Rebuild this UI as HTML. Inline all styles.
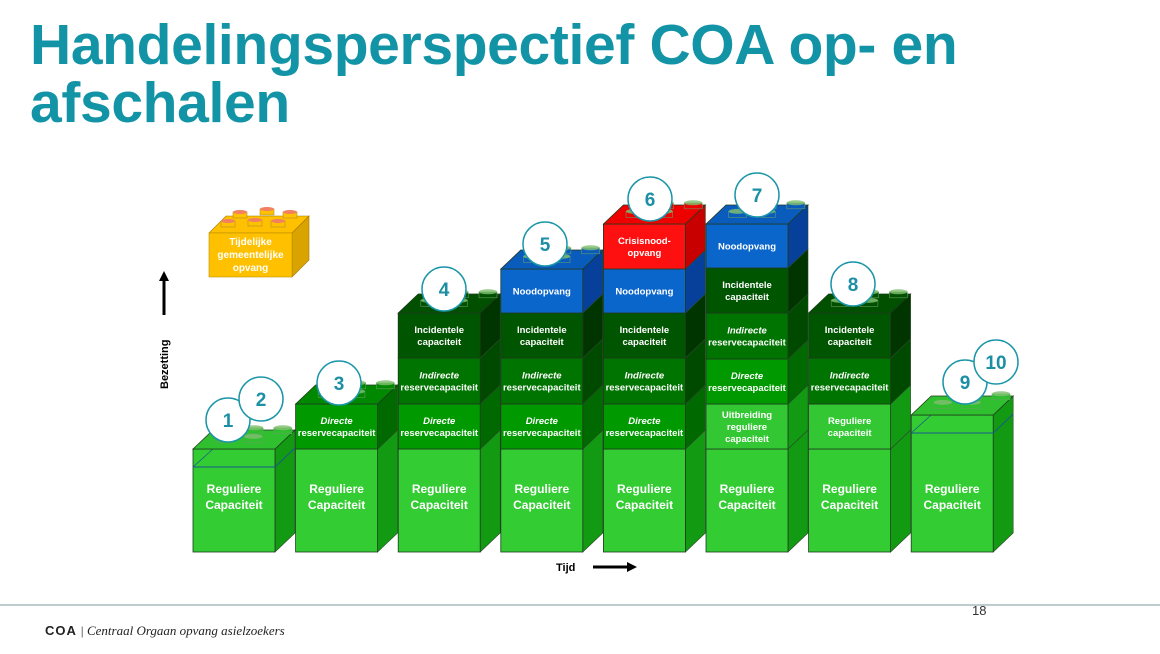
<!DOCTYPE html>
<html><head><meta charset="utf-8">
<style>
html,body{margin:0;padding:0;background:#fff;}
body{width:1160px;height:654px;overflow:hidden;position:relative;font-family:"Liberation Sans",sans-serif;}
.title{position:absolute;left:30px;top:16px;font-size:57px;line-height:58px;font-weight:bold;color:#1294a6;letter-spacing:-0.35px;margin:0;}
svg{position:absolute;left:0;top:0;}
</style></head>
<body>
<h1 class="title">Handelingsperspectief COA op- en<br>afschalen</h1>
<svg id="chart" width="1160" height="654"></svg>
<script>
// Column stacks (bottom to top): layer types
const stackCol1 = ["base1"];
const stackCol2 = ["reg","dir"];
const stackCol3 = ["reg","dir","ind","inc"];
const stackCol4 = ["reg","dir","ind","inc","nood"];
const stackCol5 = ["reg","dir","ind","inc","nood","crisis"];
const stackCol6 = ["reg","uitb","dir","ind","inc","nood"];
const stackCol7 = ["reg","regcap","ind","inc"];
const stackCol8 = ["base8"];
const stacks = [stackCol1,stackCol2,stackCol3,stackCol4,stackCol5,stackCol6,stackCol7,stackCol8];
const stepLabels = [["1","2"],["3"],["4"],["5"],["6"],["7"],["8"],["9","10"]];

const types = {
  base1:{h:103,f:"#33cc33",s:"#139a13",t:"#2fbf2f",lab:["Reguliere","Capaciteit"],big:true,outline:true},
  base8:{h:137,f:"#33cc33",s:"#139a13",t:"#2fbf2f",lab:["Reguliere","Capaciteit"],big:true,outline:true},
  reg:{h:103,f:"#33cc33",s:"#139a13",t:"#2fbf2f",lab:["Reguliere","Capaciteit"],big:true},
  dir:{h:45,f:"#009a00",s:"#006a00",t:"#008800",lab:["Directe","reservecapaciteit"],it:true},
  ind:{h:46,f:"#007400",s:"#004a00",t:"#006a00",lab:["Indirecte","reservecapaciteit"],it:true},
  inc:{h:45,f:"#005500",s:"#003500",t:"#005000",lab:["Incidentele","capaciteit"]},
  nood:{h:44,f:"#0b66cc",s:"#06409a",t:"#0a5cbc",lab:["Noodopvang"]},
  crisis:{h:45,f:"#ff1010",s:"#c80000",t:"#ee0000",lab:["Crisisnood-","opvang"]},
  uitb:{h:45,f:"#33c833",s:"#139a13",t:"#2fbf2f",lab:["Uitbreiding","reguliere","capaciteit"]},
  regcap:{h:45,f:"#33c833",s:"#139a13",t:"#2fbf2f",lab:["Reguliere","capaciteit"]}
};

const svg=document.getElementById('chart');
const NS="http://www.w3.org/2000/svg";
function mk(tag,attrs,parent){const e=document.createElementNS(NS,tag);for(const k in attrs)e.setAttribute(k,attrs[k]);(parent||svg).appendChild(e);return e;}
const colX = i => 193 + i*102.6;
const W=82, DX=20, DY=19, BOTTOM=552;

stacks.forEach((stack,ci)=>{
  const g=mk('g',{});
  
  
  const x=colX(ci);
  let y=BOTTOM;
  let topT=null;
  stack.forEach((tk,li)=>{
    const t=types[tk];
    const top=y-t.h;
    const b=mk('g',{},g);
    
    
    mk('polygon',{points:`${x+W},${top} ${x+W+DX},${top-DY} ${x+W+DX},${y-DY} ${x+W},${y}`,fill:t.s,stroke:"#2a4a2a","stroke-width":0.6},b);
    mk('rect',{x:x,y:top,width:W,height:t.h,fill:t.f,stroke:"#1e3a1e","stroke-width":0.8},b);
    const n=t.lab.length, fs=t.big?12:9.5, lh=t.big?16:12;
    const center=t.big?y-55:top+t.h/2;
    const cy=center - (n-1)*lh/2 + fs*0.35;
    t.lab.forEach((s,k)=>{
      const tx=mk('text',{x:x+W/2,y:cy+k*lh,"text-anchor":"middle",fill:"#fff","font-size":fs,"font-weight":"bold","font-style":(t.it&&k==0)?"italic":"normal","font-family":"Liberation Sans, sans-serif"},b);
      tx.textContent=s;
    });
    if(t.outline){
      mk('line',{x1:x,y1:top+18,x2:x+W,y2:top+18,stroke:"#1a5a8a","stroke-width":1},b);
      mk('line',{x1:x+W,y1:top+18,x2:x+W+DX,y2:top+18-DY,stroke:"#1a5a8a","stroke-width":1},b);
      mk('line',{x1:x,y1:top+18,x2:x+DX,y2:top,stroke:"#1a5a8a","stroke-width":0.8},b);
    }
    y=top; topT=t;
  });
  mk('polygon',{points:`${x},${y} ${x+DX},${y-DY} ${x+W+DX},${y-DY} ${x+W},${y}`,fill:topT.t,stroke:"#1e3a1e","stroke-width":0.8},g);
  [[0.3,0.65],[0.65,0.65],[0.55,0.2],[0.9,0.2]].forEach(p=>{
    const sx=x+p[0]*W+DX*(1-p[1]), sy=y-DY*(1-p[1]);
    mk('rect',{x:sx-9,y:sy-6,width:18,height:6,fill:topT.t,stroke:"#6aa06a","stroke-width":0.6,opacity:0.9},g);
    mk('ellipse',{cx:sx,cy:sy-6,rx:9,ry:2.5,fill:"#7fbf6f",opacity:0.8},g);
  });
});

// step circles
const circlePos=[[228,420],[261,399],[339,383],[444,289],[545,244],[650,199],[757,195],[853,284],[965,382],[996,362]];
const flat=[].concat(...stepLabels);
flat.forEach((lab,i)=>{
  const c=mk('g',{});
  
  
  mk('circle',{cx:circlePos[i][0],cy:circlePos[i][1],r:22,fill:"#fff",stroke:"#1b96a8","stroke-width":1.5},c);
  const t=mk('text',{x:circlePos[i][0],y:circlePos[i][1]+7,"text-anchor":"middle",fill:"#1b8fa3","font-size":19,"font-weight":"bold","font-family":"Liberation Sans, sans-serif"},c);
  t.textContent=lab;
});

// yellow block
(function(){
  const g=mk('g',{});
  
  
  const x=209,y=233,w=83,h=44;
  mk('polygon',{points:`${x+w},${y} ${x+w+17},${y-17} ${x+w+17},${y+h-17} ${x+w},${y+h}`,fill:"#d9a400",stroke:"#a07a00","stroke-width":0.6},g);
  mk('polygon',{points:`${x},${y} ${x+17},${y-17} ${x+w+17},${y-17} ${x+w},${y}`,fill:"#ffc000",stroke:"#a07a00","stroke-width":0.6},g);
  mk('rect',{x:x,y:y,width:w,height:h,fill:"#ffc000",stroke:"#c09000","stroke-width":0.6},g);
  [[240,216],[267,213],[290,216],[228,225],[255,224],[278,225]].forEach(p=>{
    mk('rect',{x:p[0]-7,y:p[1]-4,width:14,height:6,fill:"#ffc000",stroke:"#b09030","stroke-width":0.6},g);
    mk('ellipse',{cx:p[0],cy:p[1]-4,rx:7,ry:2,fill:"#f08060"},g);
  });
  ["Tijdelijke","gemeentelijke","opvang"].forEach((s,k)=>{
    const t=mk('text',{x:x+w/2,y:y+12+k*13,"text-anchor":"middle",fill:"#fff","font-size":10,"font-weight":"bold","font-family":"Liberation Sans, sans-serif"},g);
    t.textContent=s;
  });
})();

// axes arrows
const ya=mk('g',{});
mk('line',{x1:164,y1:315,x2:164,y2:280,stroke:"#000","stroke-width":3},ya);
mk('polygon',{points:"159,281 169,281 164,271",fill:"#000"},ya);
const yt=mk('text',{x:0,y:0,transform:"translate(168,389) rotate(-90)","font-size":11,"font-weight":"bold",fill:"#000","font-family":"Liberation Sans, sans-serif"});
yt.textContent="Bezetting";
const xt=mk('text',{x:556,y:571,"font-size":11,"font-weight":"bold",fill:"#000","font-family":"Liberation Sans, sans-serif"});
xt.textContent="Tijd";
const xa=mk('g',{});
mk('line',{x1:593,y1:567,x2:628,y2:567,stroke:"#000","stroke-width":3},xa);
mk('polygon',{points:"627,562 627,572 637,567",fill:"#000"},xa);

// footer
const fl=mk('line',{x1:0,y1:605,x2:1160,y2:605,stroke:"#a8bcbd","stroke-width":1.5});

const pn=mk('text',{x:972,y:615,"font-size":13,fill:"#333","font-family":"Liberation Sans, sans-serif"});
pn.textContent="18";
const ft=mk('text',{x:45,y:635,"font-size":13,fill:"#222","font-family":"Liberation Serif, serif"});

const b1=mk('tspan',{"font-weight":"bold","font-family":"Liberation Sans, sans-serif","letter-spacing":"1"},ft);b1.textContent="COA";
const b2=mk('tspan',{"font-style":"italic"},ft);b2.textContent=" | Centraal Orgaan opvang asielzoekers";
</script>
</body></html>
